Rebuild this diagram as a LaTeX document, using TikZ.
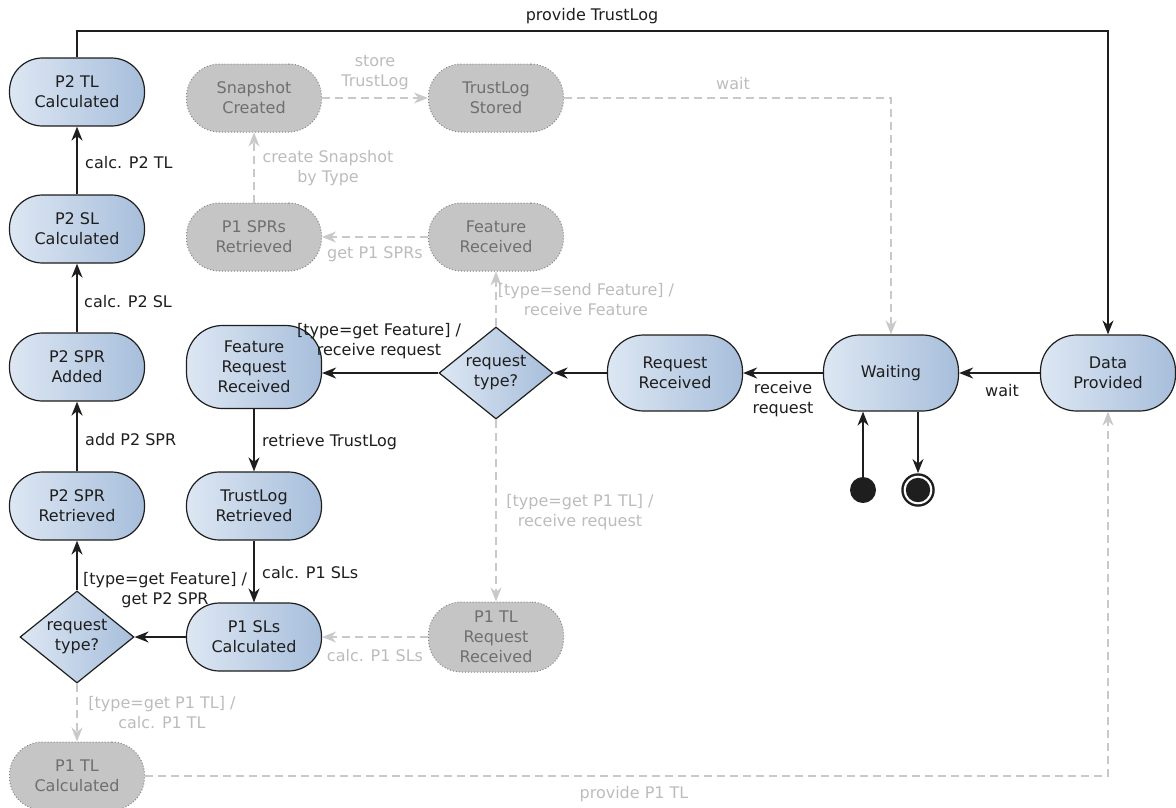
\documentclass[tikz,border=0pt]{standalone}
\usepackage{fontspec}
\setmainfont{DejaVu Sans}
\usetikzlibrary{arrows.meta,shapes.geometric}

\definecolor{blueL}{HTML}{DDE7F3}
\definecolor{blueD}{HTML}{A7BEDB}
\definecolor{greyFill}{HTML}{C4C5C4}
\definecolor{greyBorder}{HTML}{858585}
\definecolor{greyText}{HTML}{6F6F6F}
\definecolor{greyLine}{HTML}{C9C9C9}
\definecolor{greyLabel}{HTML}{BCBCBC}
\definecolor{ink}{HTML}{1E1E1E}

\newcommand\diagfont{\fontsize{16}{20}\selectfont}

\tikzset{
  state/.style={draw=ink, line width=1.2pt, rounded corners=33pt,
    left color=blueL, right color=blueD, minimum width=135pt,
    minimum height=68pt, inner sep=0pt, align=center, font=\diagfont, text=ink},
  ghost/.style={draw=greyBorder, dotted, line width=1pt, fill=greyFill,
    rounded corners=33pt, minimum width=135pt, minimum height=68pt,
    inner sep=0pt, align=center, font=\diagfont, text=greyText},
  choice/.style={diamond, draw=ink, line width=1.2pt, left color=blueL,
    right color=blueD, minimum width=114pt, minimum height=92pt, inner sep=0pt,
    label={[align=center, font=\diagfont, text=ink]center:request\\type?}},
  tip/.style={-{Stealth[length=14pt, width=11pt, inset=4.5pt]}},
  flow/.style={draw=ink, line width=1.8pt, tip},
  thinflow/.style={draw=ink, line width=1.1pt, tip},
  ghostflow/.style={draw=greyLine, line width=1.5pt, dash pattern=on 8pt off 5pt, tip},
  thinghost/.style={draw=greyLine, line width=1.1pt, dash pattern=on 8pt off 5pt, tip},
  lbl/.style={font=\diagfont, text=ink, align=center, inner sep=0pt},
  ghostlbl/.style={lbl, text=greyLabel},
}

\begin{document}
\begin{tikzpicture}[x=1pt, y=-1pt]
\useasboundingbox (0,0) rectangle (1176,807);

% left column
\node[state] (p2tl)  at (77,92)  {P2 TL\\Calculated};
\node[state] (p2sl)  at (77,229) {P2 SL\\Calculated};
\node[state] (p2add) at (77,367) {P2 SPR\\Added};
\node[state] (p2ret) at (77,506) {P2 SPR\\Retrieved};
\node[choice] (rt2)  at (77,637) {};
\node[ghost] (p1tlc) at (77,776) {P1 TL\\Calculated};

% second column
\node[ghost] (snap)  at (254,98)  {Snapshot\\Created};
\node[ghost] (p1spr) at (254,237) {P1 SPRs\\Retrieved};
\node[state, minimum height=83pt, rounded corners=36pt] (freq) at (254,367) {Feature\\Request\\Received};
\node[state] (tlret) at (254,506) {TrustLog\\Retrieved};
\node[state] (p1sl)  at (254,637) {P1 SLs\\Calculated};

% third column
\node[ghost] (tlstored) at (496,98)  {TrustLog\\Stored};
\node[ghost] (featrec)  at (496,237) {Feature\\Received};
\node[choice] (rt1)     at (496,373) {};
\node[ghost, minimum height=70pt] (p1tlreq) at (496,637) {P1 TL\\Request\\Received};

% right row
\node[state, minimum height=76pt, rounded corners=36pt] (reqrec) at (675,373) {Request\\Received};
\node[state, minimum height=76pt, rounded corners=36pt] (wait)   at (891,373) {Waiting};
\node[state, minimum height=76pt, rounded corners=36pt] (data)   at (1108,373) {Data\\Provided};

% pseudo states
\node[circle, fill=ink, minimum size=26pt, inner sep=0pt] (init) at (863,490) {};
\node[circle, fill=ink, minimum size=33.5pt, inner sep=0pt,
  path picture={\fill[white] (path picture bounding box.center) circle (14.3pt);
                \fill[ink] (path picture bounding box.center) circle (12.2pt);}] (fin) at (918,490) {};

% transitions
\coordinate (topbend) at (592,31);
\draw[thinflow] (p2tl.north) |- (topbend) -| (data.north);
\node[lbl] (lprov) at (592,16) {provide TrustLog};

\draw[flow] (data.west) -- (wait.east);
\node[lbl] (lwait) at (1002,391) {wait};

\draw[flow] (wait.west) -- (reqrec.east);
\node[lbl] (lrecv) at (783,399) {receive\\request};

\draw[flow] (reqrec.west) -- (rt1.east);

\draw[flow] (rt1.west) -- (rt1.west -| freq.east);
\node[lbl] (lgetf) at (379,341) {[type=get Feature] /\\receive request};

\draw[ghostflow] (rt1.north) -- (featrec.south);
\node[ghostlbl] (lsendf) at (586,300) {[type=send Feature] /\\receive Feature};

\draw[ghostflow] (rt1.south) -- (p1tlreq.north);
\node[ghostlbl] (lgetp1) at (580,512) {[type=get P1 TL] /\\receive request};

\draw[ghostflow] (featrec.west) -- (p1spr.east);
\node[ghostlbl] (lgetspr) at (375,254) {get P1 SPRs};

\draw[ghostflow] (p1spr.north) -- (snap.south);
\node[ghostlbl] (lsnap) at (328,168) {create Snapshot\\by Type};

\draw[ghostflow] (snap.east) -- (tlstored.west);
\node[ghostlbl] (lstore) at (375,73) {store\\TrustLog};

\draw[ghostflow] (tlstored.east) -| (wait.north);
\node[ghostlbl] (lwait2) at (733,84) {wait};

\draw[flow] (freq.south) -- (tlret.north);
\node[lbl, anchor=west] (lretr) at (262,442) {retrieve TrustLog};

\draw[flow] (tlret.south) -- (p1sl.north);
\node[lbl, anchor=west] (lcalc1) at (262,573) {calc. P1 SLs};

\draw[ghostflow] (p1tlreq.west) -- (p1sl.east);
\node[ghostlbl] (lcalc2) at (375,656) {calc. P1 SLs};

\draw[flow] (p1sl.west) -- (rt2.east);

\draw[flow] (rt2.north) -- (p2ret.south);
\node[lbl] (lgetp2) at (165,590) {[type=get Feature] /\\get P2 SPR};

\draw[ghostflow] (rt2.south) -- (p1tlc.north);
\node[ghostlbl] (lcalctl) at (162,713) {[type=get P1 TL] /\\calc. P1 TL};

\draw[thinghost] (p1tlc.east) -| (data.south);
\node[ghostlbl] (lprov2) at (634,794) {provide P1 TL};

\draw[flow] (p2ret.north) -- (p2add.south);
\node[lbl, anchor=west] (ladd) at (85,440) {add P2 SPR};

\draw[flow] (p2add.north) -- (p2sl.south);
\node[lbl, anchor=west] (lsl) at (84,302) {calc. P2 SL};

\draw[flow] (p2sl.north) -- (p2tl.south);
\node[lbl, anchor=west] (ltl) at (85,163) {calc. P2 TL};

\draw[flow] (init.north) -- (init.north |- wait.south);
\draw[thinflow] (fin.north |- wait.south) -- (fin.north);

\end{tikzpicture}
\end{document}
